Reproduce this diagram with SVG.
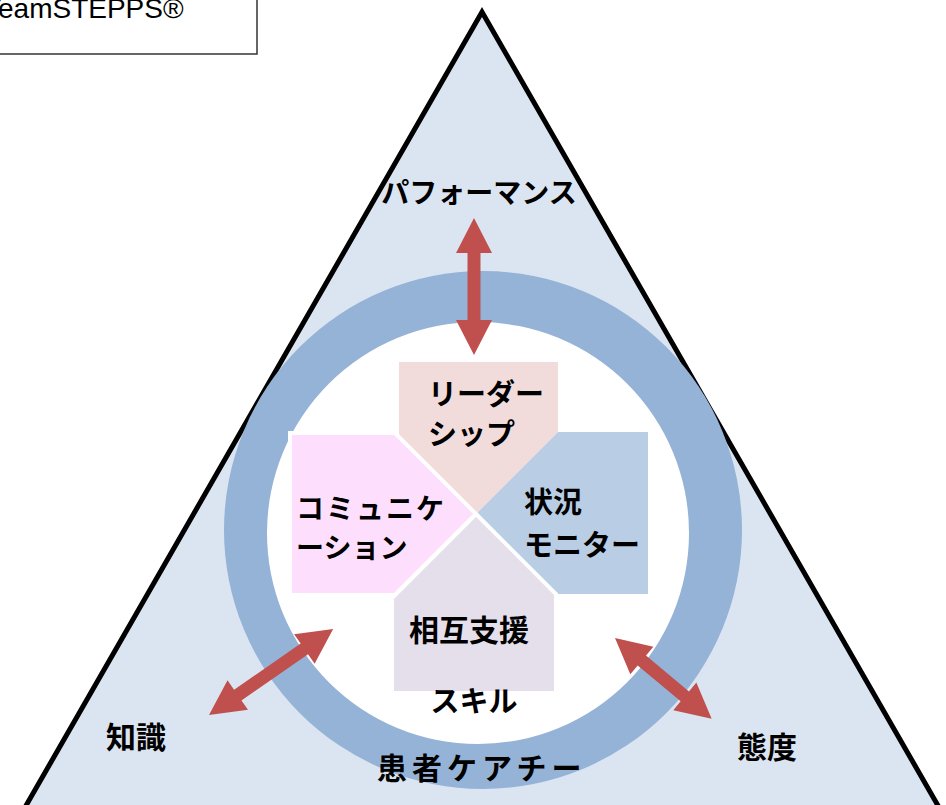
<svg xmlns="http://www.w3.org/2000/svg" width="946" height="805" viewBox="0 0 946 805">
<style>
.jp{font-family:"Noto Sans CJK JP","Noto Sans",sans-serif;font-weight:bold;fill:#000}
.arrow{fill:#C0504D}
</style>
<rect width="946" height="805" fill="#fff"/>
<g id="title">
<rect x="-5" y="-5" width="262" height="59" fill="#fff" stroke="#333" stroke-width="1.5"/>
<text x="-16" y="18" font-family="Liberation Sans, Arial, sans-serif" font-size="28" fill="#000">TeamSTEPPS®</text>
</g>
<g id="triangle">
<polygon points="482,12 952,830 12,830" fill="#DBE5F1" stroke="#000" stroke-width="5" stroke-linejoin="miter"/>
</g>
<g id="ring">
<circle cx="483" cy="530" r="259" fill="#95B3D7"/>
<circle cx="478" cy="533" r="211" fill="#fff"/>
</g>
<g id="leadership">
<polygon points="399,362 558,362 558,432 476,514 399,437" fill="#F2DCDB"/>
<text class="jp" font-size="29" x="428" y="405">リーダー</text>
<text class="jp" font-size="29" x="428" y="445">シップ</text>
</g>
<g id="situation">
<polygon points="476,514 558,432 648,432 648,594 556,594" fill="#B9CDE5"/>
<text class="jp" font-size="29" x="524" y="513">状況</text>
<text class="jp" font-size="29" x="524" y="556">モニター</text>
</g>
<g id="communication">
<polygon points="290,433 395,433 476,514 395,595 290,595" fill="#FDDFFD" stroke="#fff" stroke-width="4"/>
<text class="jp" font-size="28" x="296" y="519" letter-spacing="2">コミュニケ</text>
<text class="jp" font-size="28" x="296" y="558">ーション</text>
</g>
<g id="mutual">
<polygon points="476,514 556,594 556,693 392,693 392,598" fill="#E5DFEC" stroke="#fff" stroke-width="4"/>
<text class="jp" font-size="30" x="409" y="641">相互支援</text>
</g>
<g id="skill">
<text class="jp" font-size="29" x="474" y="712" text-anchor="middle">スキル</text>
</g>
<g id="performance">
<text class="jp" font-size="28" x="479" y="203" text-anchor="middle">パフォーマンス</text>
</g>
<g id="knowledge">
<text class="jp" font-size="30" x="106" y="748">知識</text>
</g>
<g id="attitude">
<text class="jp" font-size="30" x="737" y="758">態度</text>
</g>
<g id="team">
<text class="jp" font-size="30" x="377" y="779" letter-spacing="5">患者ケアチー</text>
</g>
<g id="connectors" class="arrow">
<path transform="translate(474,218) rotate(90)" d="M0,0 L35,-18 L35,-6.5 L102,-6.5 L102,-18 L137,0 L102,18 L102,6.5 L35,6.5 L35,18 Z"/>
<path transform="translate(209,715) rotate(-34.7)" d="M0,0 L35,-18 L35,-6.5 L116,-6.5 L116,-18 L151,0 L116,18 L116,6.5 L35,6.5 L35,18 Z"/>
<path transform="translate(615,638) rotate(39.9)" d="M0,0 L35,-18 L35,-6.5 L91,-6.5 L91,-18 L126,0 L91,18 L91,6.5 L35,6.5 L35,18 Z"/>
</g>
</svg>
